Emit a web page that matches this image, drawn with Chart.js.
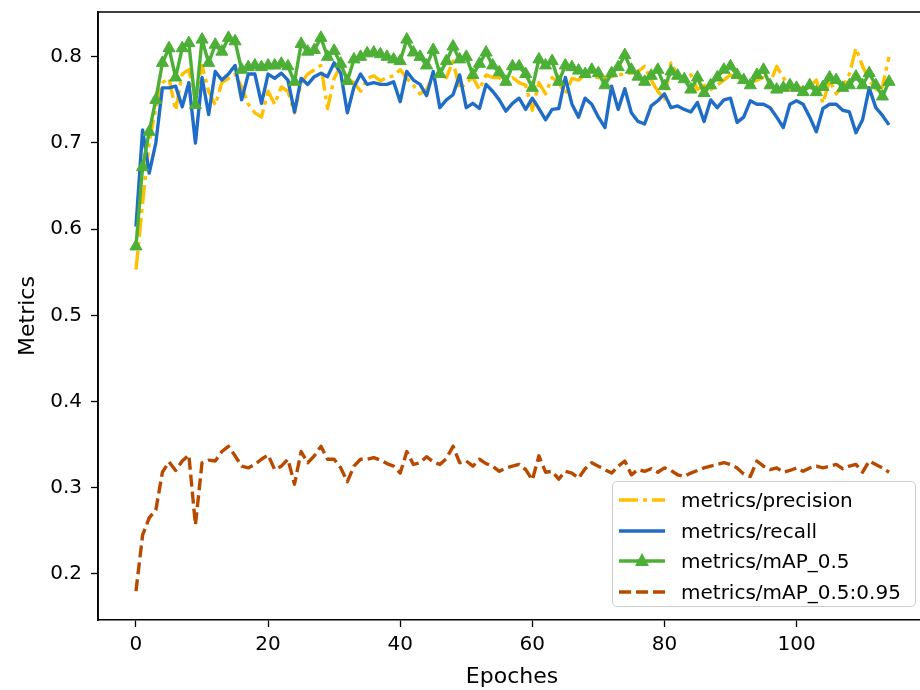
<!DOCTYPE html>
<html>
<head>
<meta charset="utf-8">
<script src="https://cdn.jsdelivr.net/npm/chart.js@4.4.0/dist/chart.umd.min.js"></script>
<style>
  html, body { margin:0; padding:0; background:#fff; overflow:hidden; width:920px; height:690px; }
  #wrap { position:absolute; left:0; top:0; width:934px; height:690px; }
  #legend { position:absolute; left:612px; top:481px; width:304px; height:126px; box-sizing:border-box;
    border:1px solid #cccccc; border-radius:5px; background:rgba(255,255,255,0.85);
    font-family:"DejaVu Sans", sans-serif; font-size:20px; color:#000; }
  .row { position:absolute; left:0; height:30px; display:flex; align-items:center; }
  .row svg { margin-left:6px; margin-right:16px; }
</style>
</head>
<body>
<div id="wrap"><canvas id="c" width="934" height="690"></canvas>
<div id="legend"></div></div>
<script>
const seriesNames = ["metrics/precision", "metrics/recall", "metrics/mAP_0.5", "metrics/mAP_0.5:0.95"];
const xTicks = [0, 20, 40, 60, 80, 100];
const yTicks = [0.2, 0.3, 0.4, 0.5, 0.6, 0.7, 0.8];
const epochs = [];
for (let i = 0; i <= 114; i++) epochs.push(i);

const precision = [
0.553,0.630,0.700,0.740,0.770,0.775,0.738,0.780,0.785,0.750,
0.790,0.760,0.744,0.770,0.775,0.780,0.765,0.745,0.735,0.730,
0.760,0.745,0.765,0.760,0.735,0.770,0.780,0.785,0.790,0.740,
0.775,0.790,0.775,0.770,0.760,0.775,0.778,0.772,0.776,0.778,
0.785,0.775,0.767,0.757,0.762,0.778,0.781,0.776,0.795,0.762,
0.770,0.776,0.762,0.779,0.776,0.776,0.770,0.776,0.770,0.767,
0.738,0.770,0.757,0.776,0.770,0.757,0.775,0.773,0.779,0.777,
0.776,0.776,0.777,0.779,0.780,0.781,0.783,0.789,0.773,0.760,
0.751,0.793,0.779,0.773,0.779,0.762,0.767,0.762,0.767,0.773,
0.779,0.776,0.773,0.770,0.773,0.776,0.770,0.789,0.776,0.762,
0.767,0.762,0.765,0.773,0.746,0.773,0.757,0.765,0.780,0.810,
0.789,0.773,0.762,0.765,0.800];

const recall = [
0.603,0.715,0.665,0.700,0.764,0.764,0.766,0.742,0.770,0.700,
0.776,0.733,0.783,0.773,0.780,0.790,0.750,0.780,0.780,0.746,
0.780,0.775,0.781,0.773,0.736,0.775,0.768,0.777,0.781,0.777,
0.793,0.781,0.735,0.765,0.780,0.768,0.770,0.768,0.768,0.771,
0.748,0.783,0.773,0.768,0.755,0.783,0.741,0.750,0.756,0.779,
0.741,0.746,0.740,0.768,0.760,0.750,0.737,0.746,0.752,0.739,
0.752,0.740,0.727,0.739,0.740,0.776,0.745,0.730,0.752,0.745,
0.730,0.718,0.766,0.739,0.763,0.735,0.725,0.722,0.743,0.749,
0.757,0.741,0.743,0.739,0.736,0.747,0.725,0.750,0.741,0.750,
0.752,0.724,0.730,0.749,0.745,0.745,0.741,0.730,0.718,0.745,
0.749,0.745,0.730,0.713,0.740,0.745,0.745,0.738,0.736,0.712,
0.727,0.764,0.741,0.732,0.721];

const map50 = [
0.580,0.672,0.713,0.750,0.793,0.810,0.776,0.810,0.816,0.744,
0.820,0.793,0.814,0.806,0.822,0.818,0.785,0.788,0.790,0.788,
0.790,0.790,0.792,0.789,0.771,0.815,0.806,0.808,0.822,0.800,
0.807,0.792,0.772,0.797,0.800,0.804,0.805,0.803,0.800,0.797,
0.795,0.820,0.805,0.800,0.790,0.808,0.780,0.795,0.812,0.797,
0.800,0.779,0.792,0.805,0.790,0.782,0.771,0.789,0.789,0.780,
0.764,0.797,0.790,0.795,0.771,0.790,0.788,0.784,0.780,0.785,
0.781,0.767,0.781,0.788,0.802,0.785,0.777,0.771,0.778,0.785,
0.766,0.783,0.778,0.774,0.762,0.776,0.758,0.767,0.776,0.785,
0.789,0.779,0.773,0.767,0.779,0.785,0.767,0.762,0.764,0.767,
0.764,0.759,0.767,0.759,0.765,0.776,0.773,0.764,0.767,0.777,
0.767,0.781,0.767,0.754,0.771];

const map5095 = [
0.180,0.245,0.265,0.274,0.318,0.330,0.320,0.331,0.338,0.257,
0.329,0.332,0.331,0.342,0.348,0.337,0.325,0.323,0.327,0.333,
0.338,0.321,0.325,0.333,0.304,0.342,0.329,0.337,0.348,0.333,
0.333,0.323,0.307,0.325,0.333,0.333,0.335,0.332,0.328,0.325,
0.317,0.342,0.327,0.329,0.336,0.330,0.327,0.334,0.348,0.329,
0.331,0.325,0.333,0.328,0.325,0.319,0.323,0.325,0.327,0.321,
0.309,0.337,0.318,0.319,0.310,0.319,0.317,0.311,0.322,0.329,
0.325,0.321,0.317,0.325,0.331,0.315,0.321,0.319,0.322,0.318,
0.323,0.320,0.315,0.313,0.317,0.320,0.323,0.325,0.327,0.329,
0.327,0.323,0.316,0.313,0.331,0.325,0.321,0.323,0.318,0.320,
0.323,0.319,0.323,0.325,0.323,0.325,0.327,0.322,0.325,0.327,
0.318,0.331,0.327,0.323,0.318];

const colors = ["#FFC000", "#1F6DC6", "#4CAF36", "#B84A00"];
const dashes = [[19, 5, 4, 5], [], [], [12, 5]];

function pts(arr) { return arr.map((v, i) => ({x: epochs[i], y: v})); }

const FONT = "'DejaVu Sans', sans-serif";

const frame = {
  id: 'frame',
  afterDraw(chart) {
    const a = chart.chartArea, ctx = chart.ctx;
    ctx.save();
    ctx.strokeStyle = '#000'; ctx.lineWidth = 1.6;
    ctx.beginPath();
    ctx.moveTo(a.left, a.bottom); ctx.lineTo(a.left, a.top); ctx.lineTo(a.right, a.top); ctx.lineTo(a.right, a.bottom);
    ctx.stroke();
    ctx.restore();
  }
};

new Chart(document.getElementById('c'), {
  type: 'line',
  data: {
    datasets: [
      { label: seriesNames[0], data: pts(precision), borderColor: colors[0], borderDash: dashes[0], borderWidth: 3.4, pointRadius: 0, order: 4 },
      { label: seriesNames[1], data: pts(recall), borderColor: colors[1], borderWidth: 3.4, pointRadius: 0, order: 3 },
      { label: seriesNames[2], data: pts(map50), borderColor: colors[2], backgroundColor: colors[2], borderWidth: 3.4,
        pointStyle: 'triangle', pointRadius: 7, pointBorderWidth: 1, pointBackgroundColor: colors[2], pointBorderColor: colors[2], order: 2 },
      { label: seriesNames[3], data: pts(map5095), borderColor: colors[3], borderDash: dashes[3], borderWidth: 3.4, pointRadius: 0, order: 1 }
    ]
  },
  options: {
    responsive: false, animation: false, devicePixelRatio: 1,
    layout: { padding: { top: 12, right: 0, bottom: 0, left: 0 } },
    plugins: { legend: { display: false }, tooltip: { enabled: false } },
    elements: { line: { tension: 0, borderCapStyle: 'butt', borderJoinStyle: 'round' } },
    scales: {
      x: {
        type: 'linear', min: -5.75, max: 119.6,
        afterBuildTicks(s) { s.ticks = xTicks.map(v => ({value: v})); },
        afterFit(s) { s.height = 70; s.paddingLeft = 0; s.paddingRight = 0; },
        grid: { drawOnChartArea: false, drawTicks: true, tickLength: 7, color: '#000', tickWidth: 1.3 },
        border: { display: true, color: '#000', width: 1.6 },
        ticks: { color: '#000', font: { family: FONT, size: 20 }, padding: 6, maxRotation: 0, autoSkip: false },
        title: { display: true, text: 'Epoches', color: '#000', font: { family: FONT, size: 22 }, padding: { top: 0, bottom: 0 } }
      },
      y: {
        type: 'linear', min: 0.1465, max: 0.852,
        afterBuildTicks(s) { s.ticks = yTicks.map(v => ({value: v})); },
        afterFit(s) { s.width = 98; s.paddingTop = 0; s.paddingBottom = 0; },
        grid: { drawOnChartArea: false, drawTicks: true, tickLength: 7, color: '#000', tickWidth: 1.3 },
        border: { display: true, color: '#000', width: 1.6 },
        ticks: { color: '#000', font: { family: FONT, size: 20 }, padding: 9, callback: v => v.toFixed(1) },
        title: { display: true, text: 'Metrics', color: '#000', font: { family: FONT, size: 22 }, padding: { top: 15, bottom: 0 } }
      }
    }
  },
  plugins: [frame]
});

// HTML legend
const leg = document.getElementById('legend');
seriesNames.forEach((name, i) => {
  const row = document.createElement('div');
  row.className = 'row';
  row.style.top = (3 + i * 30.5) + 'px';
  const svgNS = 'http://www.w3.org/2000/svg';
  const svg = document.createElementNS(svgNS, 'svg');
  svg.setAttribute('width', '46'); svg.setAttribute('height', '20');
  const ln = document.createElementNS(svgNS, 'line');
  ln.setAttribute('x1', '0'); ln.setAttribute('x2', '46'); ln.setAttribute('y1', '10'); ln.setAttribute('y2', '10');
  ln.setAttribute('stroke', colors[i]); ln.setAttribute('stroke-width', '3.4');
  if (dashes[i].length) ln.setAttribute('stroke-dasharray', dashes[i].join(' '));
  svg.appendChild(ln);
  if (i === 2) {
    const tri = document.createElementNS(svgNS, 'polygon');
    tri.setAttribute('points', '23,2 30,15 16,15');
    tri.setAttribute('fill', colors[i]);
    svg.appendChild(tri);
  }
  row.appendChild(svg);
  const t = document.createElement('span');
  t.textContent = name;
  row.appendChild(t);
  leg.appendChild(row);
});
</script>
</body>
</html>
